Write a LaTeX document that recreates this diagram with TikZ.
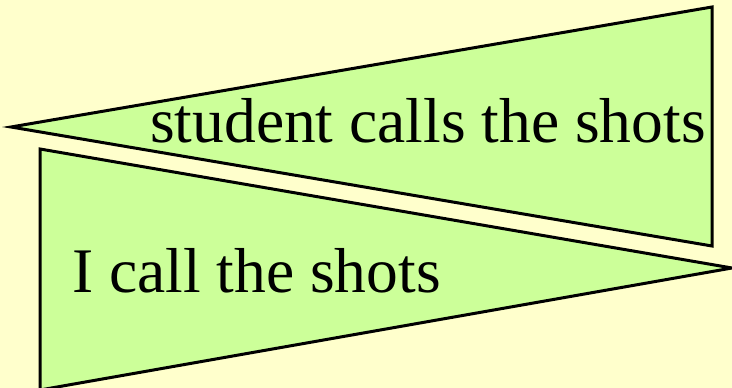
\documentclass[tikz,border=0pt]{standalone}
\usepackage{fontspec}
\setmainfont{Liberation Serif}
\definecolor{paper}{HTML}{FFFFCC}
\definecolor{pennant}{HTML}{CCFF99}

\begin{document}
\begin{tikzpicture}[x=1pt, y=1pt,
    flag/.style={draw, fill=pennant, line width=3pt, line join=miter},
    slogan/.style={inner sep=0pt, anchor=base west, font=\fontsize{63.5}{70}\selectfont}]

    \useasboundingbox (0,0) rectangle (732,388);
    \fill [paper] (0,0) rectangle (732,388);
    \clip (0,0) rectangle (732,388);

    % pennant pointing left, pennant pointing right
    \draw [flag] (11,261) -- (712,381) -- (712,142) -- cycle;
    \draw [flag] (40,239) -- (732,120) -- (40,-2) -- cycle;

    \node [slogan] (student) at (150,245) {student calls the shots};
    \node [slogan] (teacher) at (72,95) {I call the shots};
\end{tikzpicture}
\end{document}
